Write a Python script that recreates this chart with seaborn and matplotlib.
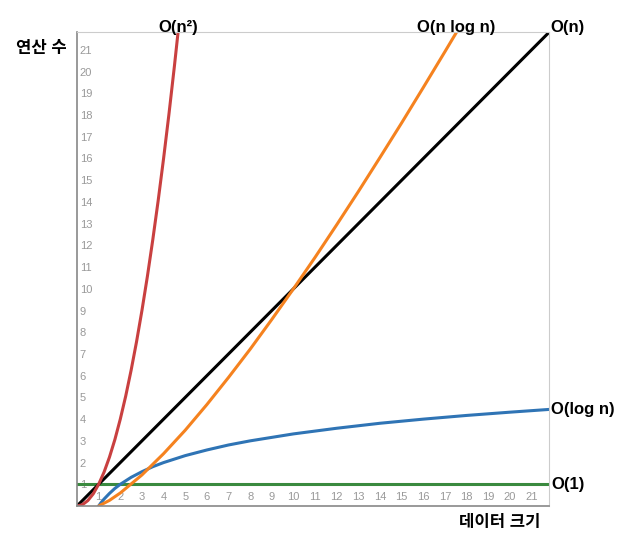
import matplotlib
matplotlib.use('Agg')
import matplotlib.pyplot as plt
import seaborn as sns

# 그래프에서 읽은 값들
const_x = [0, 22]
const_y = [1, 1]

log_x = [1, 1.1, 1.25, 1.5, 1.75, 2, 2.5, 3, 3.5, 4, 5, 6, 7, 8, 10, 12, 14, 16, 18, 20, 22]
log_y = [0, 0.14, 0.32, 0.58, 0.81, 1, 1.32, 1.58, 1.81, 2, 2.32, 2.58, 2.81, 3,
         3.32, 3.58, 3.81, 4, 4.17, 4.32, 4.46]

lin_x = [0, 22]
lin_y = [0, 22]

nlog_x = [1, 1.5, 2, 3, 4, 5, 6, 7, 8, 9, 10, 11, 12, 13, 14, 15, 16, 17, 18]
nlog_y = [0, 0.26, 0.6, 1.43, 2.41, 3.49, 4.67, 5.92, 7.22, 8.59, 10, 11.45, 12.95,
          14.48, 16.05, 17.64, 19.27, 20.92, 22.59]

sq_x = [0, 0.25, 0.5, 0.75, 1, 1.25, 1.5, 1.75, 2, 2.25, 2.5, 2.75, 3, 3.25, 3.5,
        3.75, 4, 4.25, 4.5, 4.75, 5]
sq_y = [0, 0.06, 0.25, 0.56, 1, 1.56, 2.25, 3.06, 4, 5.06, 6.25, 7.56, 9, 10.56,
        12.25, 14.06, 16, 18.06, 20.25, 22.56, 25]

ticks = list(range(1, 22))

sns.set_style('white')
plt.rcParams['font.family'] = ['Liberation Sans', 'Noto Sans CJK KR', 'DejaVu Sans']

fig = plt.figure(figsize=(6.23, 5.37), dpi=100)
ax = fig.add_axes([0.1236, 0.0577, 0.881 - 0.1236, 0.9395 - 0.0577])

lw = 2.2
sns.lineplot(x=const_x, y=const_y, color='#3a8a3f', lw=lw, ax=ax)
sns.lineplot(x=log_x, y=log_y, color='#2f74b5', lw=lw, ax=ax)
sns.lineplot(x=lin_x, y=lin_y, color='black', lw=lw, ax=ax)
sns.lineplot(x=nlog_x, y=nlog_y, color='#f5821f', lw=lw, ax=ax)
sns.lineplot(x=sq_x, y=sq_y, color='#c94040', lw=lw, ax=ax)

ax.set_xlim(0, 21.8)
ax.set_ylim(0, 21.8)
ax.set_xticks(ticks)
ax.set_yticks(ticks)
ax.set_xticklabels([str(t) for t in ticks])
ax.set_yticklabels([str(t) for t in ticks])

ax.tick_params(axis='both', colors='#999999', labelsize=8, length=4,
               direction='inout', width=0.8)
ax.tick_params(axis='y', pad=-4)
ax.tick_params(axis='x', pad=-5)
for t in ax.get_yticklabels():
    t.set_ha('left')
for t in ax.get_xticklabels():
    t.set_va('bottom')

for s in ['left', 'bottom']:
    ax.spines[s].set_color('#888888')
    ax.spines[s].set_linewidth(1.2)
for s in ['top', 'right']:
    ax.spines[s].set_color('#cccccc')
    ax.spines[s].set_linewidth(0.8)

lab = dict(fontsize=12, fontweight='bold', color='black')
ax.text(4.7, 21.7, 'O(n²)', ha='center', va='bottom', **lab)
ax.text(17.5, 21.7, 'O(n log n)', ha='center', va='bottom', **lab)
ax.text(21.85, 21.7, 'O(n)', ha='left', va='bottom', **lab)
ax.text(21.9, 4.46, 'O(log n)', ha='left', va='center', **lab)
ax.text(21.9, 1, 'O(1)', ha='left', va='center', **lab)

fig.text(67 / 623, 1 - 48 / 537, '연산 수', ha='right', va='center', **lab)
fig.text(500 / 623, 1 - 523 / 537, '데이터 크기', ha='center', va='center', **lab)

fig.savefig('out.png', dpi=100)
